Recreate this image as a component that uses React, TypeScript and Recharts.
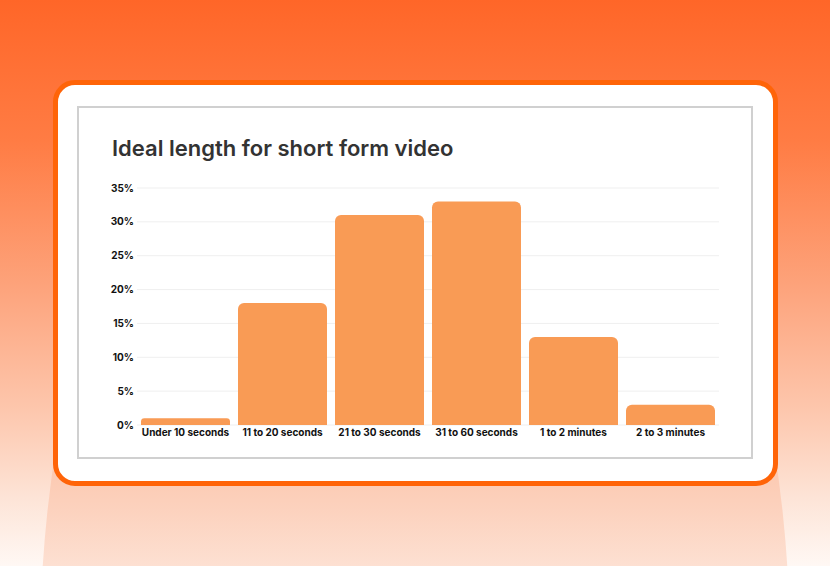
import { BarChart, Bar, XAxis, YAxis, CartesianGrid } from "recharts";

const categories = [
  "Under 10 seconds",
  "11 to 20 seconds",
  "21 to 30 seconds",
  "31 to 60 seconds",
  "1 to 2 minutes",
  "2 to 3 minutes",
];
const shares = [1, 18, 31, 33, 13, 3];
const yTicks = [0, 5, 10, 15, 20, 25, 30, 35];

const data = categories.map((name, i) => ({ name, value: shares[i] }));

const FONT = "Inter, 'Open Sans', sans-serif";

export default function App() {
  return (
    <div
      style={{
        position: "fixed",
        left: 0,
        top: 0,
        width: 830,
        height: 566,
        overflow: "hidden",
        fontFamily: FONT,
        background:
          "linear-gradient(180deg, #ff6628 0%, #ff7c44 25%, #fda27a 50%, #fdc6ac 72%, #fde4d7 88%, #fff8f4 100%)",
      }}
    >
      {/* peach arch behind the card, only its lower part shows */}
      <div
        style={{
          position: "absolute",
          left: 40,
          top: -50,
          width: 750,
          height: 1400,
          borderRadius: "50%",
          background:
            "linear-gradient(180deg, rgba(252,190,160,0) 0%, rgba(252,190,160,0) 30%, #fcc0a3 34%, #fcd2be 40%, #fde0d2 44%)",
        }}
      />
      {/* card */}
      <div
        style={{
          position: "absolute",
          left: 53,
          top: 80,
          width: 725,
          height: 406,
          boxSizing: "border-box",
          border: "5px solid #ff6408",
          borderRadius: 22,
          background: "#ffffff",
        }}
      />
      <div
        style={{
          position: "absolute",
          left: 77,
          top: 106,
          width: 676,
          height: 353,
          boxSizing: "border-box",
          border: "2px solid #d0d0d0",
          background: "#ffffff",
        }}
      />
      <div
        style={{
          position: "absolute",
          left: 112,
          top: 137,
          fontSize: 22,
          lineHeight: 1,
          fontWeight: 600,
          color: "#333333",
          whiteSpace: "nowrap",
        }}
      >
        Ideal length for short form video
      </div>
      <div style={{ position: "absolute", left: 77, top: 170 }}>
        <BarChart
          width={676}
          height={289}
          data={data}
          margin={{ top: 18, right: 34, left: 0, bottom: 4 }}
          barCategoryGap={4}
        >
          <CartesianGrid stroke="#efefef" vertical={false} />
          <YAxis
            width={60}
            domain={[0, 35]}
            ticks={yTicks}
            tickFormatter={(v) => `${v}%`}
            axisLine={false}
            tickLine={false}
            tickSize={0}
            tickMargin={3}
            tick={{ fontSize: 10, fontWeight: 700, fill: "#111111", fontFamily: FONT }}
          />
          <XAxis
            dataKey="name"
            height={30}
            axisLine={false}
            tickLine={false}
            tickSize={0}
            tickMargin={4}
            interval={0}
            tick={{ fontSize: 10, fontWeight: 700, fill: "#111111", fontFamily: FONT }}
          />
          <Bar
            dataKey="value"
            fill="#f99b55"
            radius={[6, 6, 0, 0]}
            isAnimationActive={false}
          />
        </BarChart>
      </div>
    </div>
  );
}
